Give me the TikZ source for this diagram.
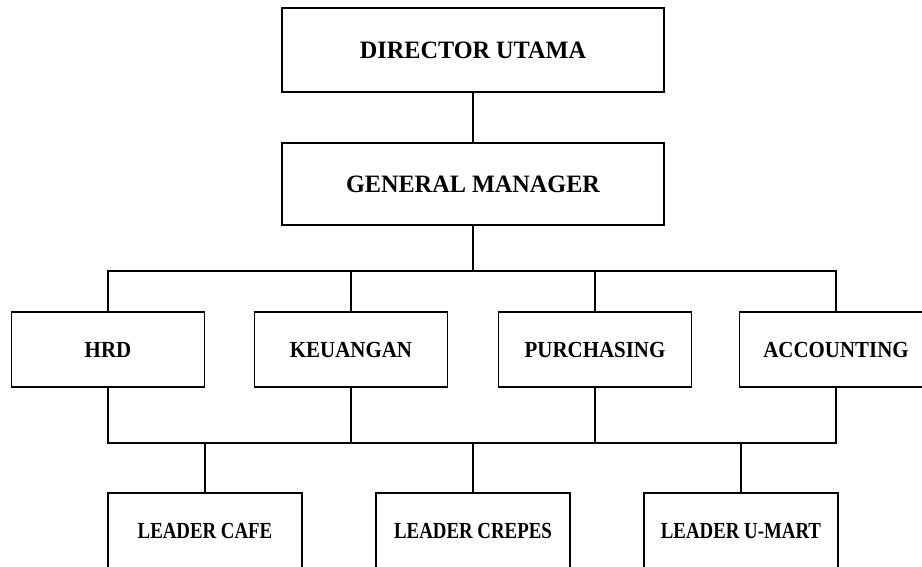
\documentclass[tikz,border=0pt]{standalone}
\usepackage{fontspec}
\usepackage{graphicx}
\setmainfont{Liberation Serif}
\tikzset{
  orgbox/.style={draw=black, line width=1.6pt, fill=white, inner sep=0pt, anchor=center},
  topbox/.style={orgbox, minimum width=382pt, minimum height=84pt,
    font=\fontsize{25}{28}\selectfont\bfseries},
  midbox/.style={orgbox, minimum width=193pt, minimum height=75pt,
    font=\fontsize{23}{26}\selectfont\bfseries},
  lowbox/.style={orgbox, minimum width=194pt, minimum height=76pt,
    font=\fontsize{23}{26}\selectfont\bfseries},
  link/.style={draw=black, line width=1.6pt, line cap=rect}
}
\begin{document}
\begin{tikzpicture}[x=1pt, y=-1pt]
\useasboundingbox (0,0) rectangle (922,567);
\clip (0,0) rectangle (922,567);
\fill[white] (0,0) rectangle (922,567);
% nodes
\node[topbox] (du) at (473,50) {\scalebox{0.97}[1]{DIRECTOR UTAMA}};
\node[topbox, minimum height=82pt] (gm) at (473,184) {\scalebox{0.97}[1]{GENERAL MANAGER}};
\node[midbox] (hrd) at (108,349.5) {\scalebox{0.91}[1]{HRD}};
\node[midbox] (keu) at (351,349.5) {\scalebox{0.91}[1]{KEUANGAN}};
\node[midbox] (pur) at (595,349.5) {\scalebox{0.91}[1]{PURCHASING}};
\node[midbox] (acc) at (836,349.5) {\scalebox{0.91}[1]{ACCOUNTING}};
\node[lowbox] (cafe) at (205,531) {\scalebox{0.82}[1]{LEADER CAFE}};
\node[lowbox] (crepes) at (473,531) {\scalebox{0.82}[1]{LEADER CREPES}};
\node[lowbox] (umart) at (741,531) {\scalebox{0.82}[1]{LEADER U-MART}};
% bus coordinates
\coordinate (busT) at (473,271);
\coordinate (busB) at (473,443);
% connectors
\draw[link] (du.south) -- (gm.north);
\draw[link] (gm.south) -- (busT);
\draw[link] (hrd.north) -- (hrd.north |- busT) -- (acc.north |- busT) -- (acc.north);
\draw[link] (keu.north) -- (keu.north |- busT);
\draw[link] (pur.north) -- (pur.north |- busT);
\draw[link] (hrd.south) -- (hrd.south |- busB) -- (acc.south |- busB) -- (acc.south);
\draw[link] (keu.south) -- (keu.south |- busB);
\draw[link] (pur.south) -- (pur.south |- busB);
\draw[link] (cafe.north |- busB) -- (cafe.north);
\draw[link] (busB) -- (crepes.north);
\draw[link] (umart.north |- busB) -- (umart.north);
\end{tikzpicture}
\end{document}
